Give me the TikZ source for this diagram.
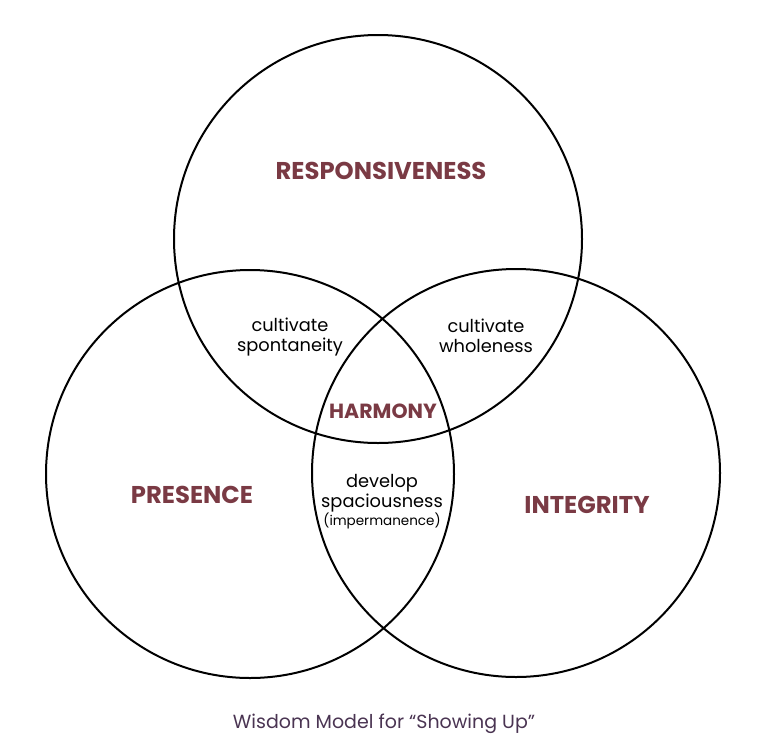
\documentclass[tikz,border=0pt]{standalone}
\usepackage{fontspec}
\setmainfont{Poppins}
\usetikzlibrary{positioning}
\definecolor{wine}{RGB}{122,58,68}
\definecolor{plum}{RGB}{74,52,82}
\newcommand{\twolines}[2]{#1\\#2}

\begin{document}
\begin{tikzpicture}[x=1pt,y=-1pt,
    ring/.style={circle, draw, line width=2pt, minimum size=408pt, inner sep=0pt},
    virtue/.style={text=wine, font=\fontsize{24.3}{28}\selectfont\bfseries},
    overlap/.style={align=center, font=\fontsize{17.8}{20}\selectfont}]
    \useasboundingbox (0,0) rectangle (768,745);
    \node[ring] (R) at (378,239) {};
    \node[ring] (P) at (250,474) {};
    \node[ring] (I) at (516,473) {};
    \node[virtue] (resp) at (381,171) {RESPONSIVENESS};
    \node[virtue] (pres) at (192,495) {PRESENCE};
    \node[virtue] (integ) at (587,505) {INTEGRITY};
    \node[virtue, font=\fontsize{20.5}{24}\selectfont\bfseries] (harm) at (383,411) {HARMONY};
    \node[overlap] (spont) at (290,337) {\twolines{cultivate}{spontaneity}};
    \node[overlap] (whole) at (486,336) {\twolines{cultivate}{wholeness}};
    \node[overlap] (space) at (382,493) {\twolines{develop}{spaciousness}};
    \node[font=\fontsize{13.5}{16}\selectfont, below=-6pt of space] (imperm) {(impermanence)};
    \node[text=plum, font=\fontsize{19}{22}\selectfont] (title) at (384,724) {Wisdom Model for “Showing Up”};
\end{tikzpicture}
\end{document}
